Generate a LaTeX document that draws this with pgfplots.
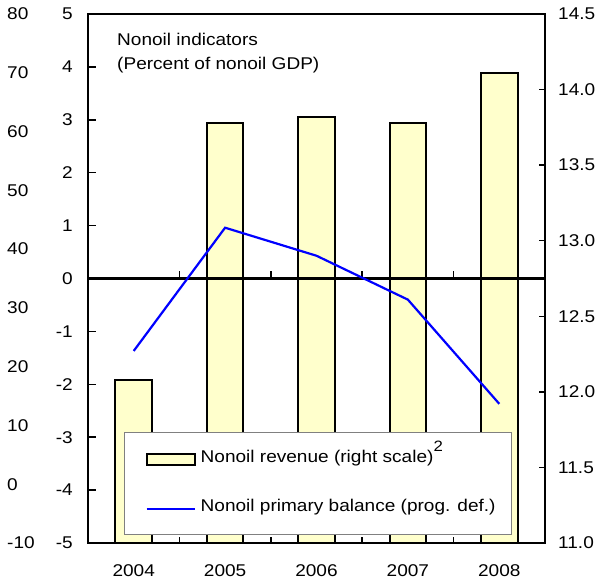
\documentclass[border=0pt]{standalone}
\usepackage{fontspec}
\setmainfont{Liberation Sans}[FakeStretch=1.12]
\usepackage{pgfplots}
\pgfplotsset{compat=1.18}
\definecolor{barfill}{RGB}{255,255,204}
\begin{document}
\begin{tikzpicture}[font=\fontsize{17pt}{20pt}\selectfont]
\path[use as bounding box] (0,0) rectangle (601pt,580pt);
\pgfplotsset{common/.style={scale only axis, width=457pt, height=529pt,
  at={(88pt,37pt)}, anchor=south west, xmin=-0.5, xmax=4.5,
  /pgf/number format/assume math mode=true, tick align=inside,
  axis line style={line width=2.5pt},
  every tick/.style={black, line width=1.5pt}}}
% bars, right scale
\begin{axis}[common, ymin=11, ymax=14.5, axis y line*=right, axis x line=none,
  ytick={11,11.5,12,12.5,13,13.5,14,14.5},
  yticklabel style={anchor=west, inner sep=0pt, xshift=13pt,
    /pgf/number format/.cd, fixed, fixed zerofill, precision=1},
  major tick length=6pt]
\addplot[ybar, bar width=0.4, fill=barfill, draw=black, line width=2pt]
  coordinates {(0,12.08) (1,13.78) (2,13.82) (3,13.78) (4,14.11)};
\end{axis}
% line, left scale
\begin{axis}[common, clip=false, ymin=-5, ymax=5, ytick={-5,-4,...,5}, ytick pos=left,
  xtick={0,1,2,3,4}, xticklabels={2004,2005,2006,2007,2008}, xtick pos=bottom,
  major x tick style={draw=none}, minor xtick={0.5,1.5,2.5,3.5},
  minor tick length=6pt, major tick length=8pt,
  yticklabel style={anchor=east, inner sep=0pt, xshift=-15pt},
  xticklabel style={anchor=north, inner sep=0pt, yshift=-21pt},
  legend cell align=left,
  legend style={at={(0.0788,0.0151)}, anchor=south west, draw=gray, line width=1pt,
    fill=white, inner xsep=21pt, inner ysep=19pt, row sep=34pt, column sep=5pt,
    nodes={inner sep=0pt, text height=11pt, text depth=4pt, anchor=west}}]
\draw[line width=2.5pt, line join=miter] (rel axis cs:0,0) rectangle (rel axis cs:1,1);
\draw[line width=2.5pt] (axis cs:-0.5,0) -- (axis cs:4.5,0);
\draw[line width=1.5pt] (axis cs:0.5,0) -- ++(0pt,7pt);
\draw[line width=1.5pt] (axis cs:1.5,0) -- ++(0pt,7pt);
\draw[line width=1.5pt] (axis cs:2.5,0) -- ++(0pt,7pt);
\draw[line width=1.5pt] (axis cs:3.5,0) -- ++(0pt,7pt);
\node[anchor=north west, align=left, inner sep=0pt, font=\fontsize{17pt}{24pt}\selectfont]
  at (rel axis cs:0.0635,0.964) {Nonoil indicators\\(Percent of nonoil GDP)};
\addlegendimage{legend image code/.code={\draw[fill=barfill, line width=2pt] (0pt,-5.5pt) rectangle (48pt,5.5pt);}}
\addlegendentry{Nonoil revenue (right scale)\smash{\raisebox{11pt}{\fontsize{15pt}{15pt}\selectfont 2}}}
\addplot[blue, line width=2.2pt, legend image code/.code={\draw[blue, line width=2.2pt] (0pt,-1pt) -- (48pt,-1pt);}]
  coordinates {(0,-1.37) (1,0.96) (2,0.43) (3,-0.40) (4,-2.37)};
\addlegendentry{\makebox[290pt][l]{Nonoil primary balance (prog. def.)}}
\end{axis}
% far-left scale
\begin{axis}[scale only axis, width=7pt, height=529pt, at={(0pt,37pt)}, anchor=south west,
  xmin=0, xmax=1, ymin=-10, ymax=80, ytick={-10,0,...,80},
  axis x line=none, axis y line*=right, y axis line style={draw=none},
  major tick length=0pt, yticklabel style={anchor=west, inner sep=0pt},
  /pgf/number format/assume math mode=true]
\end{axis}
\end{tikzpicture}
\end{document}
